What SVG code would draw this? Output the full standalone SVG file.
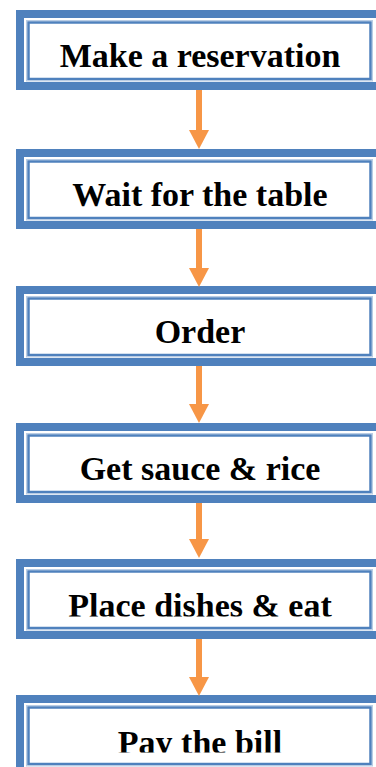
<svg xmlns="http://www.w3.org/2000/svg" width="376" height="767" viewBox="0 0 376 767">
  <style>
    .outer { fill: #ffffff; stroke: #4F81BD; stroke-width: 8; }
    .inner { fill: none; stroke: #4F81BD; stroke-width: 2.5; }
    .innerLight { fill: none; stroke: #B9CDE5; stroke-width: 1; }
    .label { font-family: "Liberation Serif", "Times New Roman", serif; font-weight: bold; font-size: 34px; fill: #000000; text-anchor: middle; }
    .conn { stroke: #F79646; stroke-width: 6; fill: none; }
  </style>
  <defs>
    <clipPath id="textClip" clipPathUnits="userSpaceOnUse">
      <rect x="0" y="0" width="376" height="57.5"/>
    </clipPath>
    <marker id="arrow" viewBox="0 0 19 20" refX="2" refY="10" markerWidth="19" markerHeight="20" markerUnits="userSpaceOnUse" orient="auto">
      <path d="M0,0 L19,10 L0,20 z" fill="#F79646"/>
    </marker>
  </defs>

  <g id="node1" transform="translate(0,10)">
    <rect class="outer" x="20" y="4" width="400" height="72"/>
    <rect class="innerLight" x="26.5" y="10.5" width="346" height="60.5"/>
    <rect class="inner" x="28.5" y="12.5" width="342" height="56.5"/>
    <text class="label" x="200" y="57" clip-path="url(#textClip)">Make a reservation</text>
  </g>

  <g id="node2" transform="translate(0,149)">
    <rect class="outer" x="20" y="4" width="400" height="72"/>
    <rect class="innerLight" x="26.5" y="10.5" width="346" height="60.5"/>
    <rect class="inner" x="28.5" y="12.5" width="342" height="56.5"/>
    <text class="label" x="200" y="57" clip-path="url(#textClip)">Wait for the table</text>
  </g>

  <g id="node3" transform="translate(0,286)">
    <rect class="outer" x="20" y="4" width="400" height="72"/>
    <rect class="innerLight" x="26.5" y="10.5" width="346" height="60.5"/>
    <rect class="inner" x="28.5" y="12.5" width="342" height="56.5"/>
    <text class="label" x="200" y="57" clip-path="url(#textClip)">Order</text>
  </g>

  <g id="node4" transform="translate(0,423)">
    <rect class="outer" x="20" y="4" width="400" height="72"/>
    <rect class="innerLight" x="26.5" y="10.5" width="346" height="60.5"/>
    <rect class="inner" x="28.5" y="12.5" width="342" height="56.5"/>
    <text class="label" x="200" y="57" clip-path="url(#textClip)">Get sauce &amp; rice</text>
  </g>

  <g id="node5" transform="translate(0,559)">
    <rect class="outer" x="20" y="4" width="400" height="72"/>
    <rect class="innerLight" x="26.5" y="10.5" width="346" height="60.5"/>
    <rect class="inner" x="28.5" y="12.5" width="342" height="56.5"/>
    <text class="label" x="200" y="57.5" clip-path="url(#textClip)">Place dishes &amp; eat</text>
  </g>

  <g id="node6" transform="translate(0,695)">
    <rect class="outer" x="20" y="4" width="400" height="72"/>
    <rect class="innerLight" x="26.5" y="10.5" width="346" height="60.5"/>
    <rect class="inner" x="28.5" y="12.5" width="342" height="56.5"/>
    <text class="label" x="200" y="58.5" clip-path="url(#textClip)">Pay the bill</text>
  </g>

  <g id="connectors">
    <line class="conn" x1="199" y1="90" x2="199" y2="132" marker-end="url(#arrow)"/>
    <line class="conn" x1="199" y1="229" x2="199" y2="270" marker-end="url(#arrow)"/>
    <line class="conn" x1="199" y1="366" x2="199" y2="406" marker-end="url(#arrow)"/>
    <line class="conn" x1="199" y1="503" x2="199" y2="541" marker-end="url(#arrow)"/>
    <line class="conn" x1="199" y1="639" x2="199" y2="679" marker-end="url(#arrow)"/>
  </g>
</svg>
